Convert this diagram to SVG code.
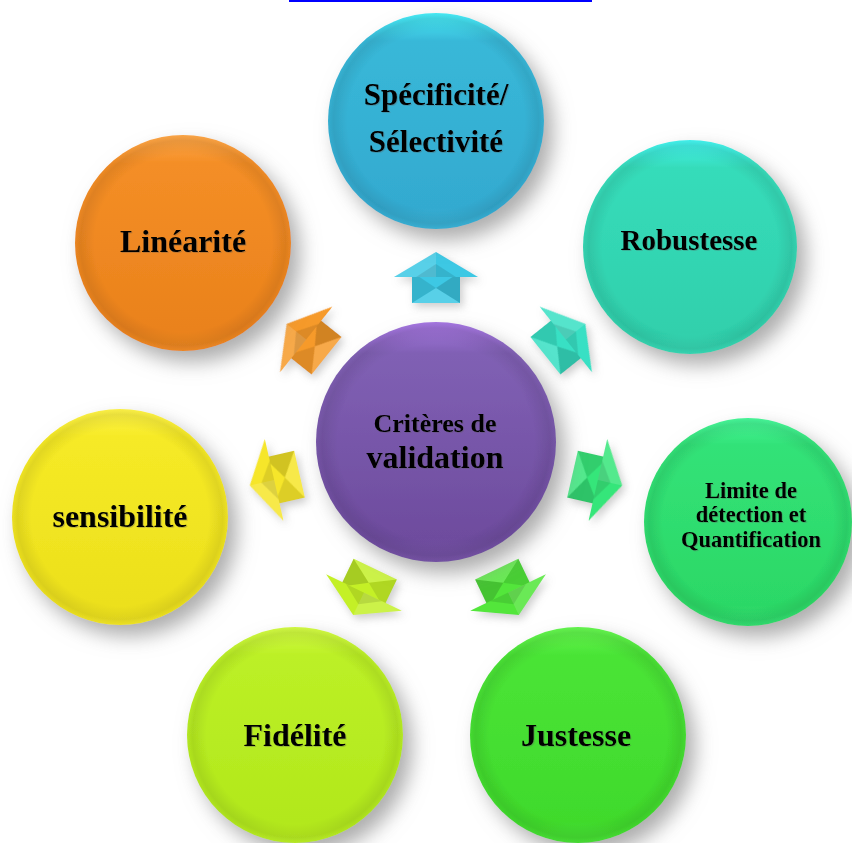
<svg xmlns="http://www.w3.org/2000/svg" width="852" height="843" viewBox="0 0 852 843">
  <defs>
    <style>
      .lbl { font-family: "Liberation Serif", "Times New Roman", serif; font-weight: bold; fill: #000; text-anchor: middle; filter: url(#txtShadow); }
      .rim { fill: url(#rimShade); }
    </style>
    <filter id="ballShadow" x="-30%" y="-30%" width="160%" height="160%">
      <feGaussianBlur in="SourceAlpha" stdDeviation="10"/>
      <feOffset dx="9" dy="11" result="b"/>
      <feFlood flood-color="#8a8a8a" flood-opacity="0.7"/>
      <feComposite in2="b" operator="in"/>
      <feMerge><feMergeNode/><feMergeNode in="SourceGraphic"/></feMerge>
    </filter>
    <filter id="arrowShadow" x="-40%" y="-40%" width="180%" height="180%">
      <feDropShadow dx="3" dy="4" stdDeviation="4" flood-color="#909090" flood-opacity="0.45"/>
    </filter>
    <filter id="txtShadow" x="-10%" y="-20%" width="120%" height="140%">
      <feDropShadow dx="1" dy="1" stdDeviation="0.6" flood-color="#555" flood-opacity="0.3"/>
    </filter>
    <!-- darker band just inside the edge -->
    <radialGradient id="rimShade" cx="0.5" cy="0.5" r="0.5">
      <stop offset="0.82" stop-color="#000" stop-opacity="0"/>
      <stop offset="0.95" stop-color="#000" stop-opacity="0.08"/>
      <stop offset="1" stop-color="#000" stop-opacity="0.02"/>
    </radialGradient>
    <linearGradient id="gCyan" x1="0" y1="0" x2="0" y2="1">
      <stop offset="0" stop-color="#48eef8"/><stop offset="0.13" stop-color="#38b8d8"/><stop offset="0.9" stop-color="#33aad0"/><stop offset="1" stop-color="#3ab2d6"/>
    </linearGradient>
    <linearGradient id="gTeal" x1="0" y1="0" x2="0" y2="1">
      <stop offset="0" stop-color="#44f4f0"/><stop offset="0.13" stop-color="#36dcba"/><stop offset="0.9" stop-color="#30d0ac"/><stop offset="1" stop-color="#36d8b4"/>
    </linearGradient>
    <linearGradient id="gGreen" x1="0" y1="0" x2="0" y2="1">
      <stop offset="0" stop-color="#48f89a"/><stop offset="0.13" stop-color="#32e278"/><stop offset="0.9" stop-color="#2cd866"/><stop offset="1" stop-color="#32de70"/>
    </linearGradient>
    <linearGradient id="gLime" x1="0" y1="0" x2="0" y2="1">
      <stop offset="0" stop-color="#66f850"/><stop offset="0.13" stop-color="#4ae436"/><stop offset="0.9" stop-color="#40da2c"/><stop offset="1" stop-color="#48e034"/>
    </linearGradient>
    <linearGradient id="gYGreen" x1="0" y1="0" x2="0" y2="1">
      <stop offset="0" stop-color="#d4fc44"/><stop offset="0.13" stop-color="#bcf026"/><stop offset="0.9" stop-color="#b2e81c"/><stop offset="1" stop-color="#baee24"/>
    </linearGradient>
    <linearGradient id="gYellow" x1="0" y1="0" x2="0" y2="1">
      <stop offset="0" stop-color="#fff448"/><stop offset="0.13" stop-color="#f6ea26"/><stop offset="0.9" stop-color="#ece01c"/><stop offset="1" stop-color="#f2e624"/>
    </linearGradient>
    <linearGradient id="gOrange" x1="0" y1="0" x2="0" y2="1">
      <stop offset="0" stop-color="#ffa848"/><stop offset="0.13" stop-color="#f48e26"/><stop offset="0.9" stop-color="#ea821c"/><stop offset="1" stop-color="#f08a24"/>
    </linearGradient>
    <linearGradient id="gPurple" x1="0" y1="0" x2="0" y2="1">
      <stop offset="0" stop-color="#a878e4"/><stop offset="0.13" stop-color="#8060b4"/><stop offset="0.9" stop-color="#6e4c9e"/><stop offset="1" stop-color="#7654a6"/>
    </linearGradient>

    <!-- folded arrow, pointing up, centred on its own origin -->
    <g id="arrow">
      <polygon points="-24,-8 24,-8 24,23 -24,23" fill="currentColor"/>
      <polygon points="-24,-8 0,8 -24,23" fill="#000" fill-opacity="0.10"/>
      <polygon points="24,-8 0,8 24,23" fill="#000" fill-opacity="0.15"/>
      <polygon points="-24,23 0,8 24,23" fill="#fff" fill-opacity="0.15"/>
      <polygon points="-42,-3 0,-28 42,-3" fill="currentColor"/>
      <polygon points="-42,-3 0,-28 0,-3" fill="#fff" fill-opacity="0.15"/>
      <polygon points="-20,-3 0,-16 20,-3" fill="#000" fill-opacity="0.10"/>
    </g>
  </defs>

  <rect width="852" height="843" fill="#ffffff"/>
  <rect x="289" y="0" width="303" height="2" fill="#0000ff"/>

  <!-- arrows from the hub to each criterion -->
  <g id="connectors" filter="url(#arrowShadow)">
    <use href="#arrow" transform="translate(436,280)" color="#3cc8e4"/>
    <use href="#arrow" transform="rotate(51.43 436 443) translate(436,280)" color="#38e0c4"/>
    <use href="#arrow" transform="rotate(102.86 436 443) translate(436,280)" color="#36e67a"/>
    <use href="#arrow" transform="rotate(154.29 436 443) translate(436,280)" color="#52e63a"/>
    <use href="#arrow" transform="rotate(205.71 436 443) translate(436,280)" color="#c4f028"/>
    <use href="#arrow" transform="rotate(257.14 436 443) translate(436,280)" color="#f6e62a"/>
    <use href="#arrow" transform="rotate(308.57 436 443) translate(436,280)" color="#f69a2a"/>
  </g>

  <g id="node-specificite" filter="url(#ballShadow)">
    <circle cx="436" cy="121" r="108" fill="url(#gCyan)"/>
    <circle cx="436" cy="121" r="108" class="rim"/>
    <text class="lbl" x="436" y="105" font-size="31">Spécificité/</text>
    <text class="lbl" x="436" y="152" font-size="31">Sélectivité</text>
  </g>

  <g id="node-robustesse" filter="url(#ballShadow)">
    <circle cx="690" cy="247" r="107" fill="url(#gTeal)"/>
    <circle cx="690" cy="247" r="107" class="rim"/>
    <text class="lbl" x="689" y="250" font-size="29">Robustesse</text>
  </g>

  <g id="node-limite" filter="url(#ballShadow)">
    <circle cx="748" cy="522" r="104" fill="url(#gGreen)"/>
    <circle cx="748" cy="522" r="104" class="rim"/>
    <text class="lbl" x="751" y="498" font-size="22.5">Limite de</text>
    <text class="lbl" x="751" y="522" font-size="22.5">détection et</text>
    <text class="lbl" x="751" y="547" font-size="22.5">Quantification</text>
  </g>

  <g id="node-justesse" filter="url(#ballShadow)">
    <circle cx="578" cy="735" r="108" fill="url(#gLime)"/>
    <circle cx="578" cy="735" r="108" class="rim"/>
    <text class="lbl" x="576" y="746" font-size="32">Justesse</text>
  </g>

  <g id="node-fidelite" filter="url(#ballShadow)">
    <circle cx="295" cy="735" r="108" fill="url(#gYGreen)"/>
    <circle cx="295" cy="735" r="108" class="rim"/>
    <text class="lbl" x="295" y="746" font-size="32">Fidélité</text>
  </g>

  <g id="node-sensibilite" filter="url(#ballShadow)">
    <circle cx="120" cy="517" r="108" fill="url(#gYellow)"/>
    <circle cx="120" cy="517" r="108" class="rim"/>
    <text class="lbl" x="120" y="527" font-size="32">sensibilité</text>
  </g>

  <g id="node-linearite" filter="url(#ballShadow)">
    <circle cx="183" cy="243" r="108" fill="url(#gOrange)"/>
    <circle cx="183" cy="243" r="108" class="rim"/>
    <text class="lbl" x="183" y="252" font-size="32">Linéarité</text>
  </g>

  <g id="node-criteres" filter="url(#ballShadow)">
    <circle cx="436" cy="442" r="120" fill="url(#gPurple)"/>
    <circle cx="436" cy="442" r="120" class="rim"/>
    <text class="lbl" x="435" y="432" font-size="26">Critères de</text>
    <text class="lbl" x="435" y="468" font-size="32">validation</text>
  </g>
</svg>
